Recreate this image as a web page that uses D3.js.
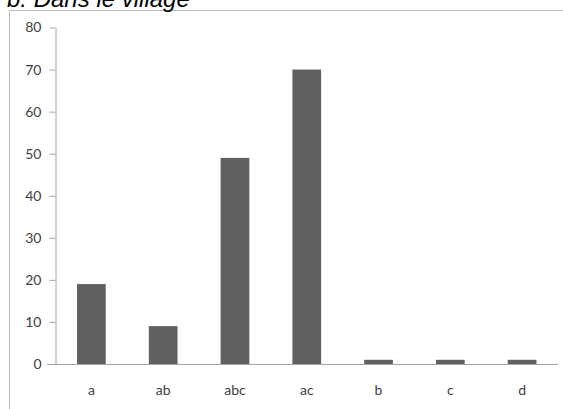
<!DOCTYPE html>
<html>
<head>
<meta charset="utf-8">
<script src="https://cdn.jsdelivr.net/npm/d3@7"></script>
<style>
	body { margin: 0; background: white; }
	svg { display: block; }
</style>
</head>
<body>
<svg width="563" height="409"></svg>
<script>
// data
const categories = ["a", "ab", "abc", "ac", "b", "c", "d"];
const values = [19, 9, 49, 70, 1, 1, 1];
const yTicks = [0, 10, 20, 30, 40, 50, 60, 70, 80];
const title = "b. Dans le village";

const svg = d3.select("svg");

// outer frame (only left and top edges are visible)
svg.append("path")
	.attr("d", "M9.5,409 V10.5 H563")
	.style("fill", "none").style("stroke", "#bdbdbd").style("stroke-width", 1);

// title, sitting right on the top edge like in the source
svg.append("text")
	.attr("x", 7).attr("y", 7)
	.style("font-family", "Liberation Sans, Arial, sans-serif")
	.style("font-style", "italic")
	.style("font-size", "24px")
	.style("fill", "#000")
	.text(title);

const x = d3.scaleBand().domain(categories).range([55.5, 558]).paddingInner(0.6).paddingOuter(0.3);
const y = d3.scaleLinear().domain([0, 80]).range([364, 27.5]);

// bars
svg.append("g").selectAll("rect").data(values).enter().append("rect")
	.attr("x", function(d, i) { return x(categories[i]); })
	.attr("width", x.bandwidth())
	.attr("y", function(d) { return y(d); })
	.attr("height", function(d) { return y(0) - y(d); })
	.style("fill", "#606060");

// y axis
const yAxis = svg.append("g").attr("transform", "translate(55.5,0)")
	.call(d3.axisLeft(y).tickValues(yTicks).tickSize(6).tickPadding(8).tickSizeOuter(0));
yAxis.select(".domain").attr("stroke", "#a6a6a6");
yAxis.selectAll(".tick line").attr("stroke", "#a6a6a6");
yAxis.selectAll("text")
	.style("font-family", "Lato, sans-serif").style("font-size", "14px").style("fill", "#404040");

// x axis line
svg.append("line")
	.attr("x1", 47).attr("x2", 558).attr("y1", 364.5).attr("y2", 364.5)
	.style("stroke", "#a6a6a6");

// x labels
svg.append("g").selectAll("text").data(categories).enter().append("text")
	.attr("x", function(d) { return x(d) + x.bandwidth() / 2; })
	.attr("y", 395)
	.attr("text-anchor", "middle")
	.style("font-family", "Lato, sans-serif").style("font-size", "14px").style("fill", "#404040")
	.text(function(d) { return d; });
</script>
</body>
</html>
